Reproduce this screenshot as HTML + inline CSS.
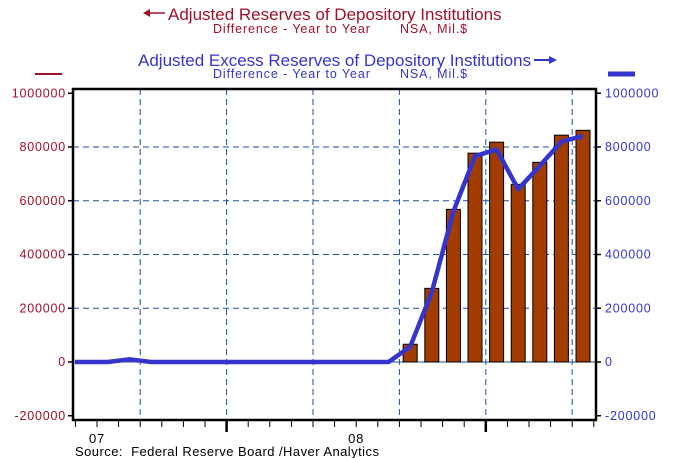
<!DOCTYPE html>
<html><head><meta charset="utf-8"><style>
body{margin:0;background:#fff}
svg{display:block;font-family:"Liberation Sans",Arial,sans-serif}
</style></head><body>
<svg id="chart" width="680" height="458" viewBox="0 0 680 458">
<g>
<text x="168" y="20" font-size="17" fill="#a0102a">Adjusted Reserves of Depository Institutions</text>
<g><line x1="145" y1="13" x2="165" y2="13" stroke="#a0102a" stroke-width="1.5"/><path d="M143,13 L150,9 L150,17 Z" fill="#a0102a"/></g>
<text x="213" y="33" font-size="12.5" letter-spacing="0.9" fill="#a0102a">Difference - Year to Year</text>
<text x="400" y="33" font-size="12.5" letter-spacing="0.9" fill="#a0102a">NSA, Mil.$</text>
<text x="138" y="66" font-size="17" fill="#3535cc">Adjusted Excess Reserves of Depository Institutions</text>
<g><line x1="534" y1="60" x2="552" y2="60" stroke="#3535cc" stroke-width="2"/><path d="M557,60 L549,56 L549,64 Z" fill="#3535cc"/></g>
<text x="213" y="78" font-size="12.5" letter-spacing="0.9" fill="#3535cc">Difference - Year to Year</text>
<text x="400" y="78" font-size="12.5" letter-spacing="0.9" fill="#3535cc">NSA, Mil.$</text>
<line x1="35" y1="74" x2="62" y2="74" stroke="#a0102a" stroke-width="2"/>
<line x1="608" y1="74" x2="635" y2="74" stroke="#3535cc" stroke-width="5"/>
</g>
<g id="grid"></g><g id="bars"></g><g id="line"></g><g id="axes"></g>
<text x="75" y="456" font-size="13" letter-spacing="0.45" fill="#000">Source:&#160; Federal Reserve Board /Haver Analytics</text>
</svg>
<script>
const months = [-1,0,1,2,3,4,5,6,7,8,9,10,11,12,13,14,15,16,17,18,19,20,21,22];
const reserves = [0,0,0,0,0,0,0,0,0,5000,0,0,0,0,0,66000,274000,568000,777000,818000,661000,743000,844000,862000];
const excess = [0,0,10000,0,0,0,0,0,0,0,0,0,0,0,0,57000,260000,560000,766000,791000,643000,730000,820000,841000];
const yTicks = [-200000,0,200000,400000,600000,800000,1000000];
const gridMonths = [2,6,10,14,18,22];
const yearLabels = [{m:0,t:"07"},{m:12,t:"08"}];

const L=73,R=596,T=89,B=420;
const NS="http://www.w3.org/2000/svg";
const x=t=>97+21.6*t;
const y=v=>362-v*268.75/1e6;
function mk(tag,attrs,parent){const e=document.createElementNS(NS,tag);for(const k in attrs)e.setAttribute(k,attrs[k]);parent.appendChild(e);return e;}
const grid=document.getElementById('grid'),bars=document.getElementById('bars'),line=document.getElementById('line'),axes=document.getElementById('axes');
yTicks.forEach(v=>{if(v<=-200000||v>=1000000)return;
 const g=mk('line',{x1:L,x2:R,y1:y(v),y2:y(v),stroke:'#1f4f9f','stroke-width':1,'stroke-dasharray':v===0?'none':'6,4'},grid);
 
 });
gridMonths.forEach(m=>{const g=mk('line',{x1:x(m),x2:x(m),y1:T,y2:B,stroke:'#1f4f9f','stroke-width':1,'stroke-dasharray':'6,4'},grid);
 
 });
months.forEach((m,i)=>{const v=reserves[i];if(v<=0)return;
 const cx=x(m+0.5);
 const b=mk('rect',{x:cx-7,y:y(v),width:14,height:y(0)-y(v),fill:'#a33c00',stroke:'#000','stroke-width':1},bars);
 
 });
let d='M'+(L+2)+','+y(excess[0]);months.forEach((m,i)=>{d+='L'+x(m+0.5)+','+y(excess[i]);});
const p=mk('path',{d:d,fill:'none',stroke:'#3535cc','stroke-width':4.5,'stroke-linejoin':'round'},line);


const fr=mk('path',{d:`M${L},${T}H${R}V${B}H${L}Z`,fill:'none',stroke:'#000','stroke-width':2.5},axes);


yTicks.forEach(v=>{
 mk('line',{x1:L-5,x2:L,y1:y(v),y2:y(v),stroke:'#000','stroke-width':1.5},axes);
 mk('line',{x1:R,x2:R+5,y1:y(v),y2:y(v),stroke:'#000','stroke-width':1.5},axes);
 const a=mk('text',{x:L-7,y:y(v)+4,'font-size':12.5,'letter-spacing':0.8,fill:'#a0102a','text-anchor':'end'},axes);a.textContent=v;
 
 
 const b=mk('text',{x:R+9,y:y(v)+4,'font-size':12.5,'letter-spacing':0.8,fill:'#3535cc'},axes);b.textContent=v;
 
 });
for(let m=-1;m<=23;m++){const xx=x(m);if(xx<L-1||xx>R+1)continue;const major=(m%12===6);
 mk('line',{x1:xx,x2:xx,y1:B,y2:B+(major?12:7),stroke:'#000','stroke-width':major?2.5:1},axes);}
yearLabels.forEach(o=>{const t=mk('text',{x:x(o.m),y:443,'font-size':13,'letter-spacing':0.8,'text-anchor':'middle'},axes);t.textContent=o.t;
 
 });
</script>
</body></html>
